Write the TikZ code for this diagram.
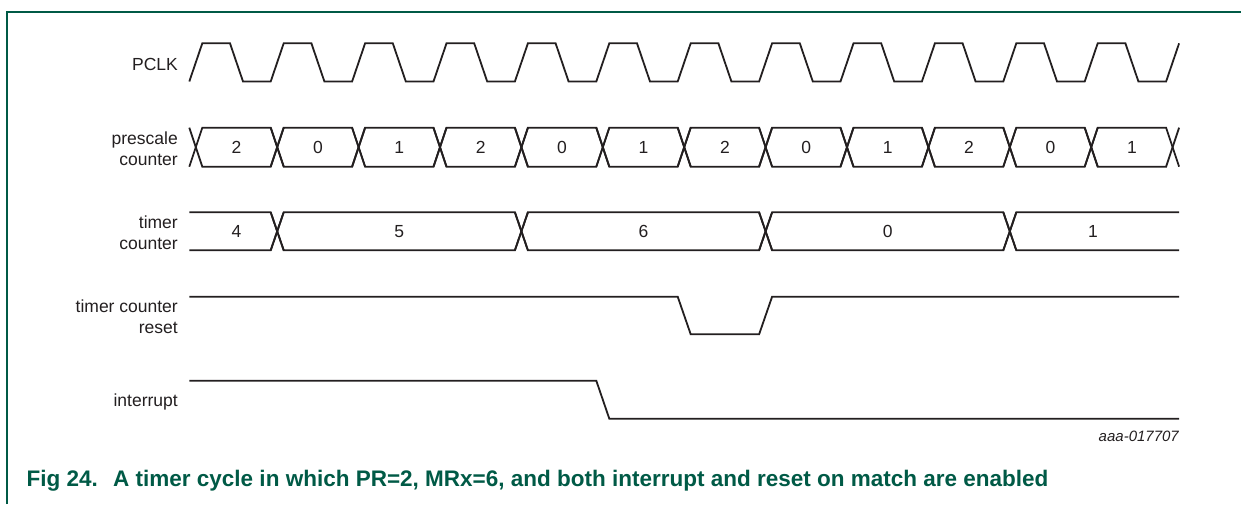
\documentclass[tikz,border=0pt]{standalone}
\usepackage{fontspec}
\setmainfont{Liberation Sans}
\definecolor{wavecol}{HTML}{231F20}
\definecolor{nxpgreen}{HTML}{005A46}
\begin{document}
\begin{tikzpicture}[x=1pt,y=-1pt,
  wave/.style={draw=wavecol, line width=1.8pt, line join=miter},
  lbl/.style={anchor=base east, inner sep=0pt, text=wavecol, font=\fontsize{17.5}{20}\selectfont},
  val/.style={anchor=center, inner sep=0pt, text=wavecol, font=\fontsize{17.5}{20}\selectfont},
  capt/.style={anchor=base west, inner sep=0pt, text=nxpgreen, font=\fontsize{22.5}{26}\selectfont\bfseries},
  tag/.style={anchor=base east, inner sep=0pt, text=wavecol, font=\fontsize{15}{18}\selectfont\itshape},
]
\useasboundingbox (0,0) rectangle (1241,504);
\fill[white] (0,0) rectangle (1241,504);
% frame
\draw[nxpgreen, line width=1.3pt] (7,504) -- (7,12) -- (1241,12);

% labels
\node[lbl] (lpclk) at (178,70.5) {PCLK};
\node[lbl] (lpre1) at (178,144.3) {prescale};
\node[lbl] (lpre2) at (178,165) {counter};
\node[lbl] (ltc1) at (178,228.3) {timer};
\node[lbl] (ltc2) at (178,249.3) {counter};
\node[lbl] (lrs1) at (178,312.7) {timer counter};
\node[lbl] (lrs2) at (178,333.3) {reset};
\node[lbl] (lint) at (178,406) {interrupt};

% PCLK
\draw[wave] (189.3,81.5) \foreach \k in {0,...,11}{
  -- ({189.3+81.4*\k+13},43.3) -- ({189.3+81.4*\k+40.7},43.3)
  -- ({189.3+81.4*\k+53.7},81.5) -- ({189.3+81.4*(\k+1)},81.5) } -- (1179.1,43.3);

% prescale counter
\foreach \k/\v in {0/2,1/0,2/1,3/2,4/0,5/1,6/2,7/0,8/1,9/2,10/0,11/1}{
  \pgfmathsetmacro{\a}{189.3+81.4*\k}
  \pgfmathsetmacro{\b}{189.3+81.4*(\k+1)}
  \draw[wave] (\a,166.7) -- (\a+13,127.7) -- (\b,127.7) -- (\b+13,166.7);
  \draw[wave] (\a,127.7) -- (\a+13,166.7) -- (\b,166.7) -- (\b+13,127.7);
  \node[val] (p\k) at (\a+47.2,147.6) {\v};
}

% timer counter
\pgfmathsetmacro{\ra}{189.3+81.4*1}
\pgfmathsetmacro{\rb}{189.3+81.4*4}
\pgfmathsetmacro{\rc}{189.3+81.4*7}
\pgfmathsetmacro{\rd}{189.3+81.4*10}
\draw[wave] (189.3,212.3) -- (\ra,212.3) -- (\ra+13,250.3);
\draw[wave] (189.3,250.3) -- (\ra,250.3) -- (\ra+13,212.3);
\draw[wave] (\ra,250.3) -- (\ra+13,212.3) -- (\rb,212.3) -- (\rb+13,250.3);
\draw[wave] (\ra,212.3) -- (\ra+13,250.3) -- (\rb,250.3) -- (\rb+13,212.3);
\draw[wave] (\rb,250.3) -- (\rb+13,212.3) -- (\rc,212.3) -- (\rc+13,250.3);
\draw[wave] (\rb,212.3) -- (\rb+13,250.3) -- (\rc,250.3) -- (\rc+13,212.3);
\draw[wave] (\rc,250.3) -- (\rc+13,212.3) -- (\rd,212.3) -- (\rd+13,250.3);
\draw[wave] (\rc,212.3) -- (\rc+13,250.3) -- (\rd,250.3) -- (\rd+13,212.3);
\draw[wave] (\rd,250.3) -- (\rd+13,212.3) -- (1179,212.3);
\draw[wave] (\rd,212.3) -- (\rd+13,250.3) -- (1179,250.3);
\node[val] (t4) at (236.5,231.6) {4};
\node[val] (t5) at (399.3,231.6) {5};
\node[val] (t6) at (643.5,231.6) {6};
\node[val] (t0) at (887.7,231.6) {0};
\node[val] (t1) at (1093,231.6) {1};

% timer counter reset
\pgfmathsetmacro{\rf}{189.3+81.4*6}
\draw[wave] (189.3,296.7) -- (\rf,296.7) -- (\rf+13,334.3) -- (\rc,334.3) -- (\rc+13,296.7) -- (1179,296.7);

% interrupt
\pgfmathsetmacro{\re}{189.3+81.4*5}
\draw[wave] (189.3,380.7) -- (\re,380.7) -- (\re+13,418.7) -- (1179,418.7);

% tag and caption
\node[tag] (tag) at (1179,441) {aaa-017707};
\node[capt] (cap1) at (26.5,486.5) {Fig 24.};
\node[capt] (cap2) at (113,486.5) {A timer cycle in which PR=2, MRx=6, and both interrupt and reset on match are enabled};
\end{tikzpicture}
\end{document}
